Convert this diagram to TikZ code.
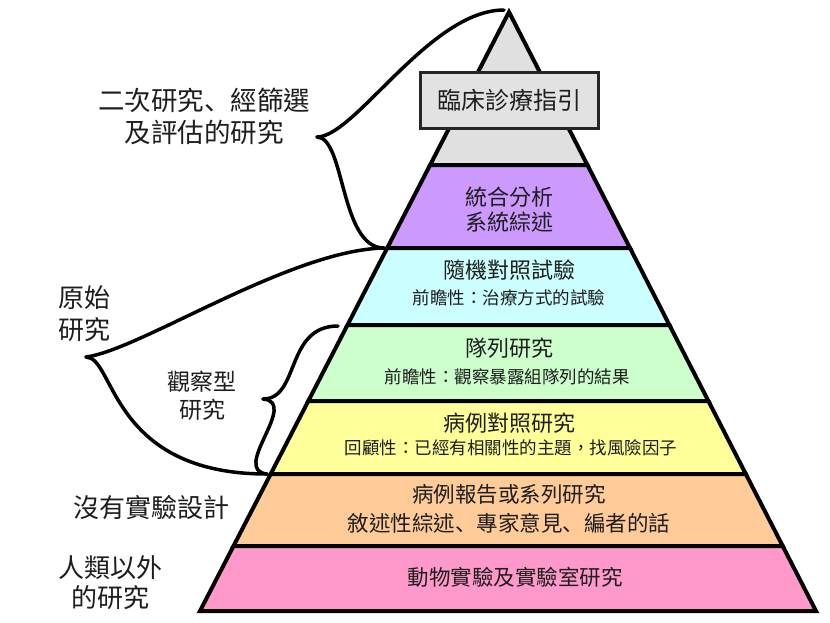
\documentclass[tikz,border=0pt]{standalone}
\usepackage{fontspec}
\newfontfamily\cjk{Noto Sans CJK TC}
\newfontfamily\cjksc{Noto Sans CJK SC}
\newcommand{\dun}{{\cjksc 、}}
\definecolor{topgray}{RGB}{224,224,224}
\definecolor{boxgray}{RGB}{226,226,226}
\definecolor{purp}{RGB}{204,153,255}
\definecolor{cyanb}{RGB}{204,255,255}
\definecolor{greenb}{RGB}{204,255,204}
\definecolor{yellowb}{RGB}{255,255,153}
\definecolor{orangeb}{RGB}{255,204,153}
\definecolor{pinkb}{RGB}{255,153,204}
\definecolor{ink}{RGB}{30,30,30}
\tikzset{
  band/.style={draw=black, line width=4pt, line join=miter},
  bracecurve/.style={draw=black, line width=3.5pt, line cap=round, line join=round},
  lab/.style={text=ink, align=center, inner sep=0pt},
  ttl/.style={lab, font=\cjk\fontsize{22}{25}\selectfont},
  sub/.style={lab, font=\cjk\fontsize{17.5}{20}\selectfont},
  side/.style={lab, font=\cjk\fontsize{26}{32}\selectfont},
}
\begin{document}
\begin{tikzpicture}[x=1pt,y=-1pt]
\path[use as bounding box, fill=white] (0,0) rectangle (830,622);
% pyramid bands
\draw[band, fill=topgray] (509,12) -- (587.4,165) -- (430.1,165) -- cycle;
\draw[band, fill=purp] (430.1,165) -- (587.4,165) -- (630,248) -- (387.2,248) -- cycle;
\draw[band, fill=cyanb] (387.2,248) -- (630,248) -- (669.4,325) -- (347.5,325) -- cycle;
\draw[band, fill=greenb] (347.5,325) -- (669.4,325) -- (708.4,401) -- (308.3,401) -- cycle;
\draw[band, fill=yellowb] (308.3,401) -- (708.4,401) -- (745.8,474) -- (270.7,474) -- cycle;
\draw[band, fill=orangeb] (270.7,474) -- (745.8,474) -- (782.7,546) -- (233.5,546) -- cycle;
\draw[band, fill=pinkb] (233.5,546) -- (782.7,546) -- (816,611) -- (200,611) -- cycle;
% top box
\node[draw=black!85, fill=boxgray, line width=3pt, minimum width=178pt, minimum height=56pt, inner sep=0pt,
      text=ink, font=\cjk\fontsize{24}{28}\selectfont] (guide) at (509,100) {臨床診療指引};
% band texts
\node[ttl] (meta) at (509,210) {統合分析\\系統綜述};
\node[ttl] (rct) at (509,270) {隨機對照試驗};
\node[sub] (rcts) at (509,298) {前瞻性：治療方式的試驗};
\node[ttl] (coh) at (509,348) {隊列研究};
\node[sub] (cohs) at (507,377) {前瞻性：觀察暴露組隊列的結果};
\node[ttl] (cc) at (509,423) {病例對照研究};
\node[sub] (ccs) at (511,448) {回顧性：已經有相關性的主題，找風險因子};
\node[ttl, font=\cjk\fontsize{21.5}{25}\selectfont] (case) at (509,494) {病例報告或系列研究};
\node[ttl, font=\cjk\fontsize{21.5}{25}\selectfont] (cases) at (509,523) {敘述性綜述\dun 專家意見\dun 編者的話};
\node[ttl, font=\cjk\fontsize{21.5}{25}\selectfont] (animal) at (515,577) {動物實驗及實驗室研究};
% side labels
\node[side, font=\cjk\fontsize{26.5}{32}\selectfont] (second) at (204,116) {二次研究\dun 經篩選\\及評估的研究};
\node[side] (orig) at (84,314) {原始\\研究};
\node[side, font=\cjk\fontsize{23}{28}\selectfont] (obs) at (202,396) {觀察型\\研究};
\node[side] (nodes) at (151,508) {沒有實驗設計};
\node[side, font=\cjk\fontsize{26}{30}\selectfont] (nonhuman) at (110,583) {人類以外\\的研究};
% brace coordinates
\coordinate (tA) at (504,10);
\coordinate (tTip) at (317,137);
\coordinate (jn) at (384,248);
\coordinate (mTip) at (86,357);
\coordinate (mB) at (267,474);
\coordinate (sA) at (338,326);
\coordinate (sTip) at (263,399);
% braces
\draw[bracecurve] (tTip) .. controls (355,137) and (430,10) .. (tA);
\draw[bracecurve] (tTip) .. controls (345,137) and (340,248) .. (jn);
\draw[bracecurve] (mTip) .. controls (140,350) and (290,250) .. (jn);
\draw[bracecurve] (mTip) .. controls (115,357) and (110,474) .. (mB);
\draw[bracecurve] (sTip) .. controls (300,399) and (285,326) .. (sA);
\draw[bracecurve] (sTip) .. controls (300,402) and (230,470) .. (mB);
\end{tikzpicture}
\end{document}
